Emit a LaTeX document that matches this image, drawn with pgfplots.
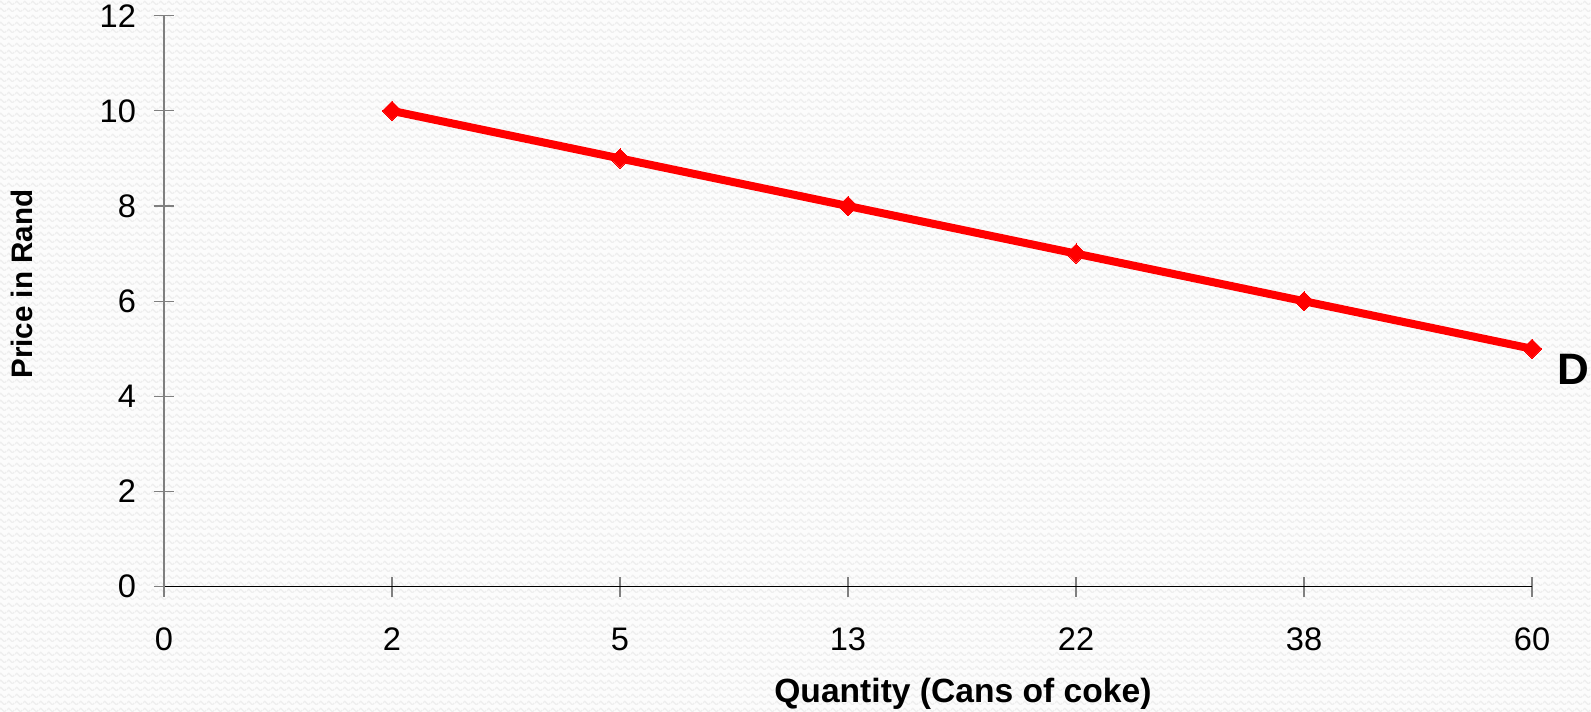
\documentclass[border=0pt]{standalone}
\usepackage{pgfplots}
\pgfplotsset{compat=1.18}
\usetikzlibrary{patterns.meta}
\usepackage{fontspec}
\setmainfont{Liberation Sans}
\definecolor{bgpaper}{HTML}{FCFCFC}
\definecolor{bgwave}{HTML}{EEEEEE}
\definecolor{axisgray}{HTML}{808080}

% light zigzag texture for the page
\tikzdeclarepattern{
  name=zigzagrows,
  type=uncolored,
  bounding box={(0pt,0pt) and (4pt,3.5pt)},
  tile size={(4pt,3.5pt)},
  code={
    \draw[line width=0.7pt, line join=round] (0pt,1.1pt) -- (1pt,2.2pt) -- (3pt,0pt) -- (4pt,1.1pt);
  }
}

\begin{document}
\begin{tikzpicture}
% page background
\path[use as bounding box, fill=bgpaper] (-82pt,-62.65pt) rectangle (713.5pt,293.35pt);
\path[pattern=zigzagrows, pattern color=bgwave] (-82pt,-62.65pt) rectangle (713.5pt,293.35pt);
\begin{axis}[
  at={(0,0)}, anchor=origin,
  scale only axis,
  width=684pt, height=285.5pt,
  xmin=0, xmax=6, ymin=0, ymax=12,
  xtick={0,1,2,3,4,5,6},
  xticklabels={0,2,5,13,22,38,60},
  ytick={0,2,4,6,8,10,12},
  axis x line=bottom, axis y line=left,
  x axis line style={black, -},
  y axis line style={axisgray, -},
  tick align=center,
  major tick length=10pt,
  every tick/.style={axisgray, line width=0.6pt},
  axis line style={line width=0.6pt},
  tick label style={font=\fontsize{16.3}{19}\selectfont},
  /pgf/number format/assume math mode=true,
  xticklabel style={yshift=-12pt},
  yticklabel style={xshift=-5.5pt},
  xlabel={\textbf{Quantity (Cans of coke)}},
  ylabel={\textbf{Price in Rand}},
  xlabel style={font=\fontsize{16.8}{20}\selectfont,
    at={(axis description cs:0.584,-0.1874)}, anchor=center},
  ylabel style={font=\fontsize{14.8}{18}\selectfont,
    at={(axis description cs:-0.1038,0.53)}, anchor=center},
  clip=false,
]
\addplot[red, line width=4pt, mark=square*, mark size=3.4pt,
  mark options={solid, rotate=45, fill=red, draw=red, line width=0pt}]
  coordinates {(1,10) (2,9) (3,8) (4,7) (5,6) (6,5)};
\node[anchor=center, font=\bfseries\fontsize{22}{26}\selectfont]
  at (axis cs:6,5) [xshift=20.5pt, yshift=-10.5pt] {D};
\end{axis}
\end{tikzpicture}
\end{document}
